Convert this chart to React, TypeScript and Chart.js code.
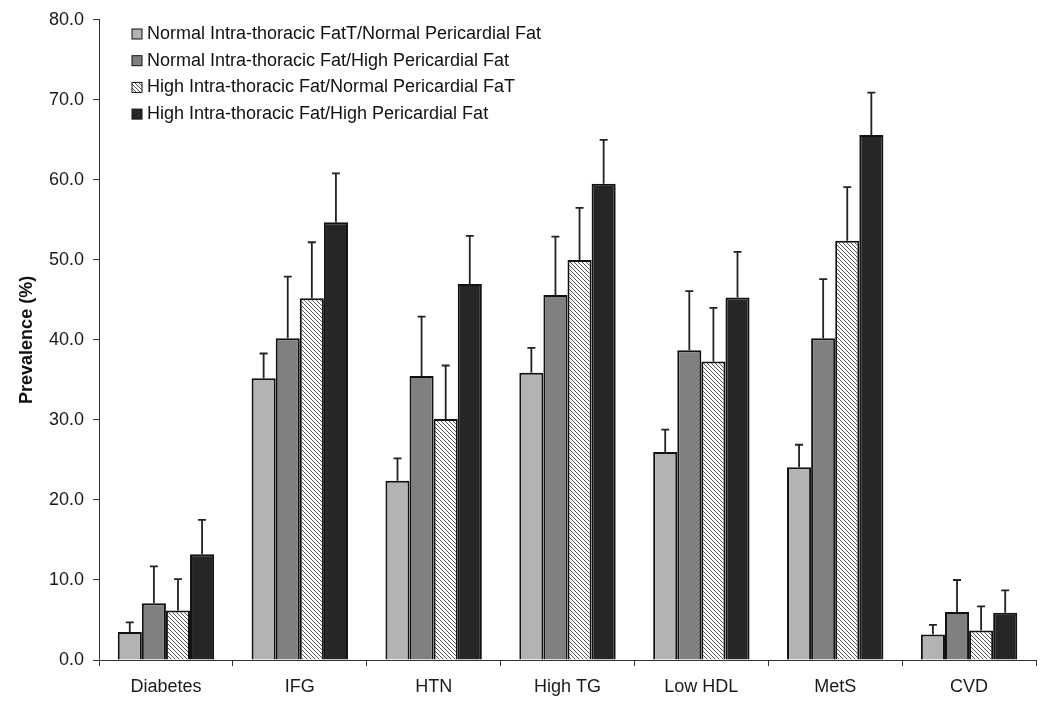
import React, { useEffect, useRef } from "react";
import { Chart, registerables } from "chart.js";

Chart.register(...registerables);

const categories = ["Diabetes", "IFG", "HTN", "High TG", "Low HDL", "MetS", "CVD"];
const seriesLabels = [
  "Normal Intra-thoracic FatT/Normal Pericardial Fat",
  "Normal Intra-thoracic Fat/High Pericardial Fat",
  "High Intra-thoracic Fat/Normal Pericardial FaT",
  "High Intra-thoracic Fat/High Pericardial Fat",
];
const normNorm = [3.5, 35.2, 22.4, 35.9, 26.0, 24.1, 3.2];
const normHigh = [7.1, 40.2, 35.5, 45.6, 38.7, 40.2, 6.0];
const highNorm = [6.2, 45.2, 30.1, 50.0, 37.3, 52.4, 3.7];
const highHigh = [13.2, 54.7, 47.0, 59.5, 45.3, 65.6, 5.9];
// upper ends of error bars
const normNormErr = [4.7, 38.3, 25.2, 39.0, 28.8, 26.9, 4.4];
const normHighErr = [11.7, 47.9, 42.9, 52.9, 46.1, 47.6, 10.0];
const highNormErr = [10.1, 52.2, 36.8, 56.5, 44.0, 59.1, 6.7];
const highHighErr = [17.5, 60.8, 53.0, 65.0, 51.0, 70.9, 8.7];
const yTicks = [0, 10, 20, 30, 40, 50, 60, 70, 80];

const FONT = "'Liberation Sans', Arial, sans-serif";

function makeHatch(): CanvasPattern | string {
  const c = document.createElement("canvas");
  c.width = 8;
  c.height = 8;
  const ctx = c.getContext("2d");
  if (!ctx) return "#fff";
  ctx.fillStyle = "#ffffff";
  ctx.fillRect(0, 0, 8, 8);
  ctx.strokeStyle = "#555555";
  ctx.lineWidth = 1;
  for (let k = -8; k <= 8; k += 4) {
    ctx.beginPath();
    ctx.moveTo(k - 1, -1);
    ctx.lineTo(k + 9, 9);
    ctx.stroke();
  }
  const p = ctx.createPattern(c, "repeat");
  return p || "#fff";
}

export default function App() {
  const ref = useRef<HTMLCanvasElement | null>(null);
  useEffect(() => {
    if (!ref.current) return;
    const hatch = makeHatch();
    const fills: any[] = ["#b3b3b3", "#808080", hatch, "#262626"];
    const values = [normNorm, normHigh, highNorm, highHigh];
    const errs = [normNormErr, normHighErr, highNormErr, highHighErr];

    const errorBars = {
      id: "errorBars",
      afterDatasetsDraw(chart: any) {
        const ctx = chart.ctx;
        const ys = chart.scales.y;
        ctx.save();
        ctx.strokeStyle = "#222";
        ctx.lineWidth = 1.8;
        chart.data.datasets.forEach((ds: any, di: number) => {
          const meta = chart.getDatasetMeta(di);
          meta.data.forEach((el: any, i: number) => {
            const top = ys.getPixelForValue(errs[di][i]);
            ctx.beginPath();
            ctx.moveTo(el.x, el.y);
            ctx.lineTo(el.x, top);
            ctx.moveTo(el.x - 4, top);
            ctx.lineTo(el.x + 4, top);
            ctx.stroke();
          });
        });
        ctx.restore();
      },
    };

    const legendPlugin = {
      id: "customLegend",
      afterDraw(chart: any) {
        const ctx = chart.ctx;
        ctx.save();
        ctx.font = "18px " + FONT;
        ctx.textBaseline = "middle";
        seriesLabels.forEach((lab, i) => {
          const y = 34 + i * 26.7;
          ctx.fillStyle = fills[i];
          ctx.fillRect(132, y - 5, 10, 10);
          ctx.strokeStyle = "#111";
          ctx.lineWidth = 1;
          ctx.strokeRect(132, y - 5, 10, 10);
          ctx.fillStyle = "#111";
          ctx.fillText(lab, 147, y);
        });
        ctx.restore();
      },
    };

    const chart = new Chart(ref.current, {
      type: "bar",
      data: {
        labels: categories,
        datasets: values.map((v, i) => ({
          label: seriesLabels[i],
          data: v,
          backgroundColor: fills[i],
          borderColor: "#111",
          borderWidth: 2,
          categoryPercentage: 0.72,
          barPercentage: 1.0,
        })),
      },
      options: {
        animation: false,
        responsive: true,
        maintainAspectRatio: false,
        layout: { padding: { top: 15, right: 14, bottom: 0, left: 0 } },
        plugins: {
          legend: { display: false },
          tooltip: { enabled: false },
        },
        scales: {
          x: {
            afterFit: (s: any) => {
              s.height = 46;
            },
            grid: {
              display: true,
              drawOnChartArea: false,
              drawTicks: true,
              tickLength: 6,
              color: "#333",
              offset: true,
            },
            border: { display: true, color: "#333", width: 1 },
            ticks: {
              color: "#1a1a1a",
              font: { family: FONT, size: 18 },
              padding: 10,
            },
          },
          y: {
            min: 0,
            max: 80,
            afterFit: (s: any) => {
              s.width = 99;
            },
            afterBuildTicks: (s: any) => {
              s.ticks = yTicks.map((v) => ({ value: v }));
            },
            grid: {
              display: true,
              drawOnChartArea: false,
              drawTicks: true,
              tickLength: 6,
              color: "#333",
            },
            border: { display: true, color: "#333", width: 1 },
            ticks: {
              color: "#1a1a1a",
              font: { family: FONT, size: 18 },
              padding: 9,
              callback: (v: any) => Number(v).toFixed(1),
            },
            title: {
              display: true,
              text: "Prevalence (%)",
              color: "#111",
              font: { family: FONT, size: 18, weight: "bold" },
              padding: { top: 16, bottom: 0 },
            },
          },
        },
      },
      plugins: [errorBars, legendPlugin],
    });
    return () => chart.destroy();
  }, []);

  return (
    <div style={{ position: "fixed", left: 0, top: 0, width: 1050, height: 706, background: "#fff" }}>
      <canvas ref={ref} />
    </div>
  );
}
